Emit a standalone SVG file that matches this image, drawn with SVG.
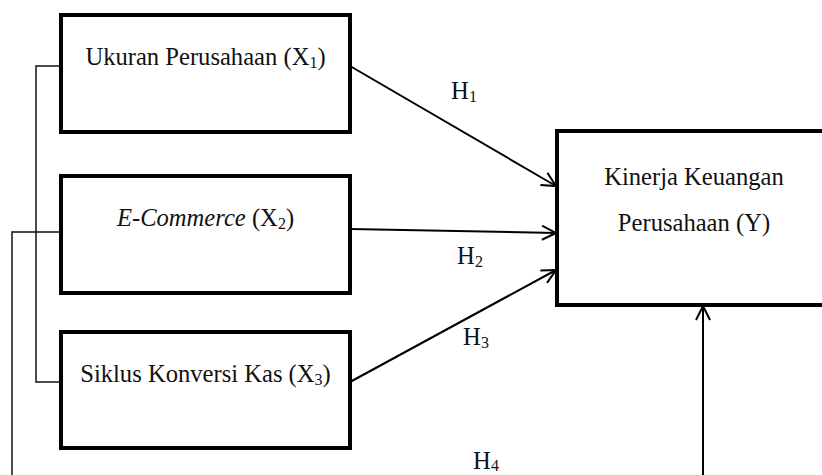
<svg xmlns="http://www.w3.org/2000/svg" width="822" height="475" viewBox="0 0 822 475">
<style>
.box{fill:#fff;stroke:#000;stroke-width:4}
.t{font-family:'Liberation Serif','DejaVu Serif',serif;font-size:24.6px;fill:#111;text-anchor:middle}
.sub{font-size:16px}
.c{stroke:#000;stroke-width:2;fill:none}
.b{stroke:#111;stroke-width:1.5;fill:none}
</style>
<defs>
<marker id="ah" viewBox="0 0 16 16" refX="15" refY="8" markerWidth="16" markerHeight="16" markerUnits="userSpaceOnUse" orient="auto">
<path d="M1,1 L15,8 L1,15" fill="none" stroke="#000" stroke-width="2"/>
</marker>
</defs>
<g id="connectors">
<path class="b" d="M61,66 H36 V382 H61"/>
<path class="b" d="M61,232 H12 V475" stroke-width="1.2"/>
<line class="c" x1="350" y1="66" x2="556" y2="186" marker-end="url(#ah)"/>
<line class="c" x1="350" y1="229" x2="556" y2="233" marker-end="url(#ah)"/>
<line class="c" x1="350" y1="382" x2="556" y2="270" marker-end="url(#ah)"/>
<line class="c" x1="703" y1="475" x2="703" y2="306" marker-end="url(#ah)"/>
<text class="t" x="464" y="99">H<tspan class="sub" dy="3">1</tspan></text>
<text class="t" x="470" y="264">H<tspan class="sub" dy="3">2</tspan></text>
<text class="t" x="476" y="345">H<tspan class="sub" dy="3">3</tspan></text>
<text class="t" x="486" y="469">H<tspan class="sub" dy="2">4</tspan></text>
</g>
<g id="x1">
<rect class="box" x="61" y="15" width="289" height="117"/>
<text class="t" x="205.5" y="65">Ukuran Perusahaan (X<tspan class="sub" dy="3">1</tspan><tspan dy="-3">)</tspan></text>
</g>
<g id="x2">
<rect class="box" x="61" y="176" width="289" height="117"/>
<text class="t" x="205.5" y="226"><tspan font-style="italic">E-Commerce</tspan> (X<tspan class="sub" dy="3">2</tspan><tspan dy="-3">)</tspan></text>
</g>
<g id="x3">
<rect class="box" x="61" y="332" width="289" height="116"/>
<text class="t" x="205.5" y="382">Siklus Konversi Kas (X<tspan class="sub" dy="3">3</tspan><tspan dy="-3">)</tspan></text>
</g>
<g id="y">
<rect class="box" x="557" y="131" width="280" height="174"/>
<text class="t" x="694" y="185">Kinerja Keuangan</text>
<text class="t" x="694" y="231">Perusahaan (Y)</text>
</g>
</svg>
